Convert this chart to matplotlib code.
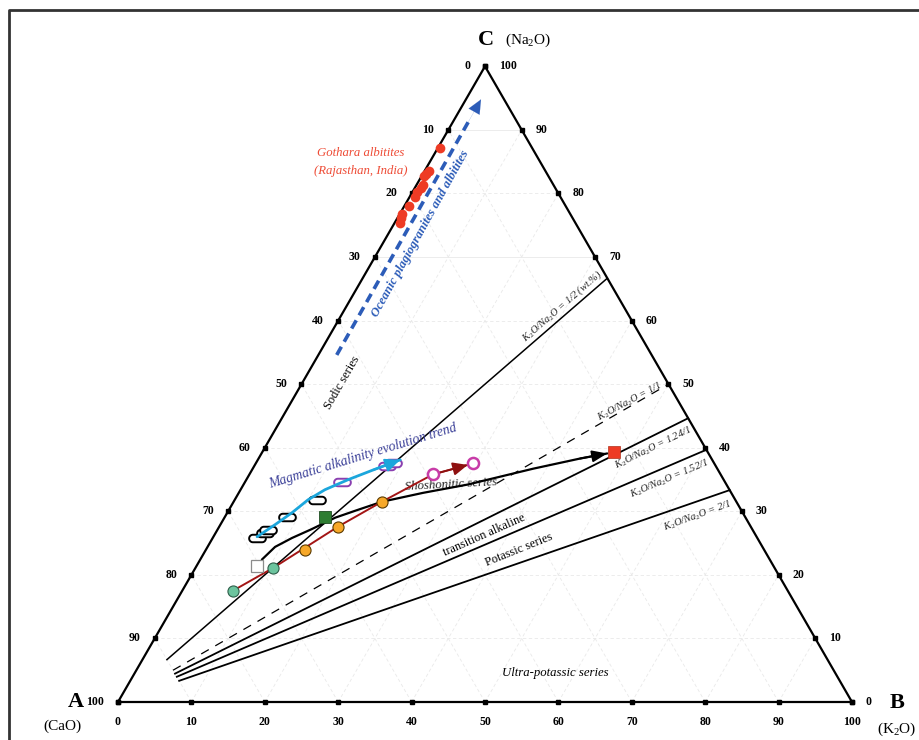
import numpy as np
import matplotlib
matplotlib.use('Agg')
import matplotlib.pyplot as plt
from matplotlib.path import Path
from matplotlib.lines import Line2D

plt.rcParams['font.family'] = ['Liberation Serif', 'DejaVu Serif']
plt.rcParams['mathtext.fontset'] = 'custom'
plt.rcParams['mathtext.rm'] = 'Liberation Serif'
plt.rcParams['mathtext.it'] = 'Liberation Serif:italic'
plt.rcParams['mathtext.bf'] = 'Liberation Serif:bold'

# ---------------- data (wt.% K2O and Na2O; CaO = 100 - K2O - Na2O) ----------------
ticks = [0, 10, 20, 30, 40, 50, 60, 70, 80, 90, 100]
ratios = [0.5, 1.0, 1.24, 1.52, 2.0]
ratio_labels = ['1/2 (wt.%)', '1/1', '1.24/1', '1.52/1', '2/1']

gothara_k2o = [0.33, 0.56, 0.47, 0.35, 0.84, 0.81, 0.66, 0.70, 0.67, 0.35, 0.53, 0.70]
gothara_na2o = [87.1, 83.6, 83.0, 82.7, 81.4, 80.9, 80.2, 79.5, 78.0, 76.7, 76.1, 75.4]

oceanic_k2o = [2.5, 2.06]
oceanic_na2o = [54.6, 94.8]

black_pill_k2o = [6.1, 6.7, 6.9, 8.5, 11.2]
black_pill_na2o = [25.8, 26.6, 27.1, 29.1, 31.8]
purple_pill_k2o = [13.2, 18.1, 18.7]
purple_pill_na2o = [34.6, 37.2, 37.6]

cyan_k2o = [5.95, 7.45, 8.83, 9.98, 11.5, 13.9, 16.5, 19.4]
cyan_na2o = [26.0, 27.9, 29.8, 31.8, 33.4, 35.0, 36.5, 38.1]

green_sq_k2o, green_sq_na2o = [13.6], [29.1]
white_sq_k2o, white_sq_na2o = [8.2], [21.4]
teal_k2o = [6.9, 10.6]
teal_na2o = [17.5, 21.1]
orange_k2o = [13.5, 16.2, 20.2]
orange_na2o = [23.9, 27.6, 31.5]
magenta_k2o = [25.0, 29.6]
magenta_na2o = [35.8, 37.6]
redline_k2o = [6.9, 10.6, 16.2, 20.2, 25.0, 29.0]
redline_na2o = [17.5, 21.1, 27.6, 31.5, 35.8, 37.3]

blackcurve_k2o = [8.4, 9.2, 10.8, 12.8, 15.1, 17.3, 20.2, 25.1, 30.5, 38.2, 43.8, 47.1]
blackcurve_na2o = [22.4, 24.4, 25.8, 27.2, 29.0, 30.1, 31.5, 32.9, 34.2, 36.7, 38.3, 39.1]

red_sq_k2o, red_sq_na2o = [47.9], [39.4]

# ---------------- geometry ----------------
SQ3 = np.sqrt(3) / 2
def tern(k2o, na2o):
    k = np.asarray(k2o, float)
    n = np.asarray(na2o, float)
    return k + n / 2, n * SQ3

W, H = 920, 740
S = 7.34
AX, AY = 118, 702
def px(x, y):
    return ((x - AX) / S, (AY - y) / S)

fig = plt.figure(figsize=(9.2, 7.4), dpi=100)
ax = fig.add_axes([0, 0, 1, 1])
ax.set_xlim(-AX / S, (W - AX) / S)
ax.set_ylim(-(H - AY) / S, AY / S)
ax.axis('off')

# frame (left + top visible)
fig.add_artist(Line2D([9.5 / W, 9.5 / W, 1.0], [0, 1 - 9.5 / H, 1 - 9.5 / H],
                      transform=fig.transFigure, color='#333333', lw=2))

# gridlines
gc = '#e9e9e9'
for v in ticks[1:-1]:
    x, y = tern([0, 100 - v], [v, v])
    ls = '-' if v in (70, 90) else (0, (4, 3))
    ax.plot(x, y, color=gc, lw=0.6, ls=ls, zorder=1)
    x, y = tern([v, v], [0, 100 - v])
    ax.plot(x, y, color=gc, lw=0.6, ls=(0, (4, 3)), zorder=1)
    x, y = tern([100 - v, 0], [0, 100 - v])
    ax.plot(x, y, color=gc, lw=0.6, ls=(0, (4, 3)), zorder=1)

# triangle
x, y = tern([0, 100, 0, 0], [0, 0, 100, 0])
ax.plot(x, y, color='black', lw=1.6, zorder=3, solid_joinstyle='miter')

# ticks
tv = np.array(ticks)
for kk, nn in [(np.zeros_like(tv), tv), (100 - tv, tv), (tv, np.zeros_like(tv))]:
    x, y = tern(kk, nn)
    ax.plot(x, y, 's', color='black', ms=3, zorder=4)

lab = dict(fontsize=8.5, fontweight='bold', color='black')
off = 14 / S
for v in ticks:
    x, y = tern(0, v)
    ax.text(x - off, y, str(100 - v), ha='right', va='center', **lab)
    x, y = tern(100 - v, v)
    ax.text(x + off, y, str(v), ha='left', va='center', **lab)
    x, y = tern(v, 0)
    ax.text(x, y - 20 / S, str(v), ha='center', va='center', **lab)

# vertex labels
ax.text(*px(76, 702), 'A', fontsize=16, fontweight='bold', ha='center', va='center')
ax.text(*px(62, 726), '(CaO)', fontsize=11, ha='center', va='center')
ax.text(*px(897, 703), 'B', fontsize=16, fontweight='bold', ha='center', va='center')
ax.text(*px(897, 729), r'(K$_2$O)', fontsize=11, ha='center', va='center')
ax.text(*px(486, 40), 'C', fontsize=16, fontweight='bold', ha='center', va='center')
ax.text(*px(528, 40), r'(Na$_2$O)', fontsize=11, ha='center', va='center')

# ratio lines (from CaO = 90 to CaO = 0)
for r in ratios:
    k0, n0 = 10 * r / (1 + r), 10 / (1 + r)
    k1, n1 = 100 * r / (1 + r), 100 / (1 + r)
    x, y = tern([k0, k1], [n0, n1])
    if r == 1.0:
        ax.plot(x, y, color='black', lw=0.9, ls=(0, (7, 6)), zorder=2)
    else:
        ax.plot(x, y, color='black', lw=1.1 if r == 0.5 else 1.3, zorder=2)

rl_pos = [(562, 306, 41), (630, 402, 28), (653, 448, 26), (669, 479, 23), (697, 516, 20)]
for txt, (xx, yy, rot) in zip(ratio_labels, rl_pos):
    ax.text(*px(xx, yy), r'K$_2$O/Na$_2$O = ' + txt, fontsize=7.5, style='italic',
            rotation=rot, rotation_mode='anchor', ha='center', va='center', color='#222222')

# series labels
ax.text(*px(342, 383), 'Sodic series', fontsize=8.8, rotation=60, rotation_mode='anchor',
        ha='center', va='center')
ax.text(*px(451, 485), 'Shoshonitic series', fontsize=9.2, style='italic', rotation=3,
        rotation_mode='anchor', ha='center', va='center', color='#222222')
ax.text(*px(484, 535), 'transition alkaline', fontsize=8.8, rotation=24,
        rotation_mode='anchor', ha='center', va='center')
ax.text(*px(519, 550), 'Potassic series', fontsize=8.8, rotation=22,
        rotation_mode='anchor', ha='center', va='center')
ax.text(*px(555, 673), 'Ultra-potassic series', fontsize=9.2, style='italic',
        ha='center', va='center')

# Gothara
x, y = tern(gothara_k2o, gothara_na2o)
ax.plot(x, y, 'o', color='#ee3b24', ms=7, mec='none', zorder=6)
ax.text(*px(361, 153), 'Gothara albitites', fontsize=9.2, style='italic', color='#ee4b35',
        ha='center', va='center')
ax.text(*px(361, 171), '(Rajasthan, India)', fontsize=9.2, style='italic', color='#ee4b35',
        ha='center', va='center')

# Oceanic dashed arrow
bc = '#2c5cb8'
x, y = tern(oceanic_k2o, oceanic_na2o)
ax.plot([x[0], x[0] + 0.93 * (x[1] - x[0])], [y[0], y[0] + 0.93 * (y[1] - y[0])],
        color=bc, lw=2.6, ls=(0, (2.6, 1.6)), zorder=5)
ax.annotate('', xy=(x[1], y[1]), xytext=(x[0] + 0.9 * (x[1] - x[0]), y[0] + 0.9 * (y[1] - y[0])),
            arrowprops=dict(arrowstyle='-|>,head_length=1.0,head_width=0.45', color=bc,
                            lw=0.1, shrinkA=0, shrinkB=0), zorder=5)
ax.text(*px(420, 234), 'Oceanic plagiogranites and albitites', fontsize=9.2, style='italic',
        fontweight='bold', color=bc, rotation=61, rotation_mode='anchor',
        ha='center', va='center')

# Magmatic trend
ax.text(*px(363, 456), 'Magmatic alkalinity evolution trend', fontsize=9.8, style='italic',
        color='#3c4199', rotation=17, rotation_mode='anchor', ha='center', va='center')

# stadium marker
t1 = np.linspace(np.pi / 2, 3 * np.pi / 2, 16)
t2 = np.linspace(-np.pi / 2, np.pi / 2, 16)
verts = np.vstack([np.c_[-0.55 + 0.45 * np.cos(t1), 0.45 * np.sin(t1)],
                   np.c_[0.55 + 0.45 * np.cos(t2), 0.45 * np.sin(t2)]])
verts = np.vstack([verts, verts[:1]])
pill = Path(verts, closed=True)

# black curve with arrow
x, y = tern(blackcurve_k2o, blackcurve_na2o)
ax.plot(x, y, color='black', lw=1.6, zorder=5, solid_capstyle='round')
ax.annotate('', xy=(x[-1], y[-1]), xytext=(x[-2], y[-2]),
            arrowprops=dict(arrowstyle='-|>,head_length=0.9,head_width=0.35', color='black',
                            lw=1.4, shrinkA=0, shrinkB=0), zorder=5)

# pills
x, y = tern(black_pill_k2o, black_pill_na2o)
ax.plot(x, y, ls='none', marker=pill, ms=12, mfc='white', mec='black', mew=1.4, zorder=6)
x, y = tern(purple_pill_k2o, purple_pill_na2o)
ax.plot(x, y, ls='none', marker=pill, ms=12, mfc='white', mec='#8a3fb0', mew=1.4, zorder=6)

# cyan curve
x, y = tern(cyan_k2o, cyan_na2o)
ax.plot(x, y, color='#1ba6dc', lw=2, zorder=7, solid_capstyle='round')
ax.annotate('', xy=(x[-1], y[-1]), xytext=(x[-2], y[-2]),
            arrowprops=dict(arrowstyle='-|>,head_length=0.9,head_width=0.4', color='#1ba6dc',
                            lw=1.5, shrinkA=0, shrinkB=0), zorder=7)

# red line
x, y = tern(redline_k2o, redline_na2o)
ax.plot(x, y, color='#a31515', lw=1.4, zorder=6)
ax.annotate('', xy=(x[-1], y[-1]), xytext=(x[-2], y[-2]),
            arrowprops=dict(arrowstyle='-|>,head_length=0.9,head_width=0.4', color='#8e1010',
                            lw=1.3, shrinkA=0, shrinkB=0), zorder=6)

# point symbols
x, y = tern(green_sq_k2o, green_sq_na2o)
ax.plot(x, y, 's', ms=8, mfc='#2e7d32', mec='#1f4d22', mew=0.6, zorder=8)
x, y = tern(white_sq_k2o, white_sq_na2o)
ax.plot(x, y, 's', ms=8, mfc='white', mec='#8c8c8c', mew=0.9, zorder=8)
x, y = tern(teal_k2o, teal_na2o)
ax.plot(x, y, 'o', ms=8, mfc='#6cc49e', mec='#2f5e4a', mew=0.8, zorder=8)
x, y = tern(orange_k2o, orange_na2o)
ax.plot(x, y, 'o', ms=8, mfc='#f7a828', mec='#5a3a00', mew=0.8, zorder=8)
x, y = tern(magenta_k2o, magenta_na2o)
ax.plot(x, y, 'o', ms=8, mfc='white', mec='#c83ca8', mew=1.8, zorder=8)
x, y = tern(red_sq_k2o, red_sq_na2o)
ax.plot(x, y, 's', ms=9, mfc='#ee3b24', mec='#b0301a', mew=0.5, zorder=8)

fig.savefig('out.png', dpi=100)
